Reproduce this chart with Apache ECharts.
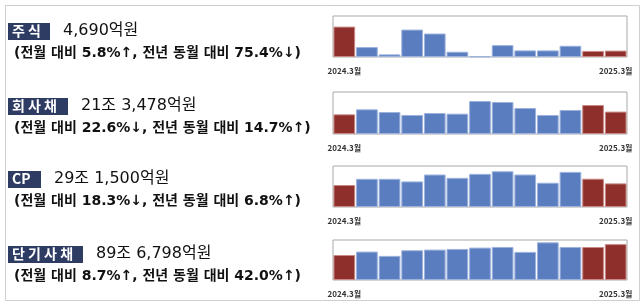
<!DOCTYPE html>
<html>
<head>
<meta charset="utf-8">
<script src="https://cdn.jsdelivr.net/npm/echarts@6/dist/echarts.min.js"></script>
<style>
html,body{margin:0;padding:0;background:#fff;}
#c{width:640px;height:301px;}
</style>
</head>
<body>
<div id="c"></div>
<script>
// Months 2024.3 ~ 2025.3 (13 months)
const months = ['2024.3월','2024.4월','2024.5월','2024.6월','2024.7월','2024.8월','2024.9월','2024.10월','2024.11월','2024.12월','2025.1월','2025.2월','2025.3월'];
const edgeLabels = ['2024.3월', '2025.3월'];

// Section names and headline texts
const names = ['주식', '회사채', 'CP', '단기사채'];
const totals = ['4,690억원', '21조 3,478억원', '29조 1,500억원', '89조 6,798억원'];
const notes = [
  '(전월 대비 5.8%↑, 전년 동월 대비 75.4%↓)',
  '(전월 대비 22.6%↓, 전년 동월 대비 14.7%↑)',
  '(전월 대비 18.3%↓, 전년 동월 대비 6.8%↑)',
  '(전월 대비 8.7%↑, 전년 동월 대비 42.0%↑)'
];

// Monthly issuance values (억원)
const stockValues = [22250, 7260, 1940, 20080, 17180, 3870, 480, 8710, 4840, 4840, 8230, 4433, 4690];
const corpBondValues = [187300, 235000, 209500, 181000, 200000, 193700, 314300, 304800, 247600, 181000, 228600, 275811, 213478];
const cpValues = [268000, 344000, 344000, 312000, 396000, 356000, 404000, 436000, 396000, 296000, 428000, 345000, 288000];
const stbValues = [625000, 710700, 603300, 743800, 760300, 776900, 809900, 826400, 702500, 942100, 826400, 825021, 896798];

// Axis maxima
const yMax = [30000, 400000, 500000, 1000000];

const seriesData = [stockValues, corpBondValues, cpValues, stbValues];

const BLUE = '#5a7dc0', RED = '#8e2f2b';
const HIGHLIGHT = [0, 11, 12];

const gridPos = [
  {top: 16, height: 41},
  {top: 92, height: 42},
  {top: 166, height: 41},
  {top: 240, height: 40}
];
const rowY = [23, 98, 171, 246];
const boxW = [42, 60, 33, 75];
const boxText = ['주 식', '회 사 채', 'CP', '단 기 사 채'];
const FONT = '"DejaVu Sans", "Noto Sans CJK KR"';

const grids = [], xAxes = [], yAxes = [], series = [], graphics = [];
for (let i = 0; i < 4; i++) {
  grids.push({left: 333, width: 294, top: gridPos[i].top, height: gridPos[i].height,
    show: true, borderColor: '#a9a9a9', borderWidth: 1, backgroundColor: 'transparent'});
  xAxes.push({type: 'category', gridIndex: i, data: months,
    axisLine: {show: false}, axisTick: {show: false},
    axisLabel: {show: true, interval: months.length - 2, showMinLabel: true, showMaxLabel: true,
      formatter: (v) => (v === months[0] ? edgeLabels[0] : v === months[months.length - 1] ? edgeLabels[1] : ''),
      fontSize: 8, fontWeight: 'bold', color: '#333', margin: 10, fontFamily: 'Noto Sans CJK KR'}});
  yAxes.push({type: 'value', gridIndex: i, min: 0, max: yMax[i], show: false, splitLine: {show: false}});
  series.push({type: 'bar', xAxisIndex: i, yAxisIndex: i, barCategoryGap: '4%',
    data: seriesData[i].map((v, k) => ({value: v, itemStyle: {
      color: HIGHLIGHT.includes(k) ? RED : BLUE,
      borderColor: HIGHLIGHT.includes(k) ? '#c98a86' : '#9db3dd', borderWidth: 1}})),
    animation: false, silent: true});

  graphics.push({type: 'rect', left: 8, top: rowY[i], shape: {width: boxW[i], height: 17},
    style: {fill: '#2e3b63'}});
  graphics.push({type: 'text', left: 8 + 4, top: rowY[i] + 1,
    style: {text: boxText[i], fill: '#fff', font: 'bold 14px "Noto Sans CJK KR"'}});
  graphics.push({type: 'text', left: 8 + boxW[i] + 13, top: rowY[i],
    style: {text: totals[i], fill: '#111', font: '16px ' + FONT}});
  graphics.push({type: 'text', left: 14, top: rowY[i] + 23,
    style: {text: notes[i], fill: '#111', font: 'bold 14px ' + FONT}});
}
graphics.push({type: 'rect', left: 3, top: 3, shape: {width: 634, height: 295},
  style: {fill: 'none', stroke: '#cfcfcf', lineWidth: 1}});

const chart = echarts.init(document.getElementById('c'));
chart.setOption({
  animation: false,
  grid: grids, xAxis: xAxes, yAxis: yAxes, series: series,
  graphic: graphics
});
</script>
</body>
</html>
